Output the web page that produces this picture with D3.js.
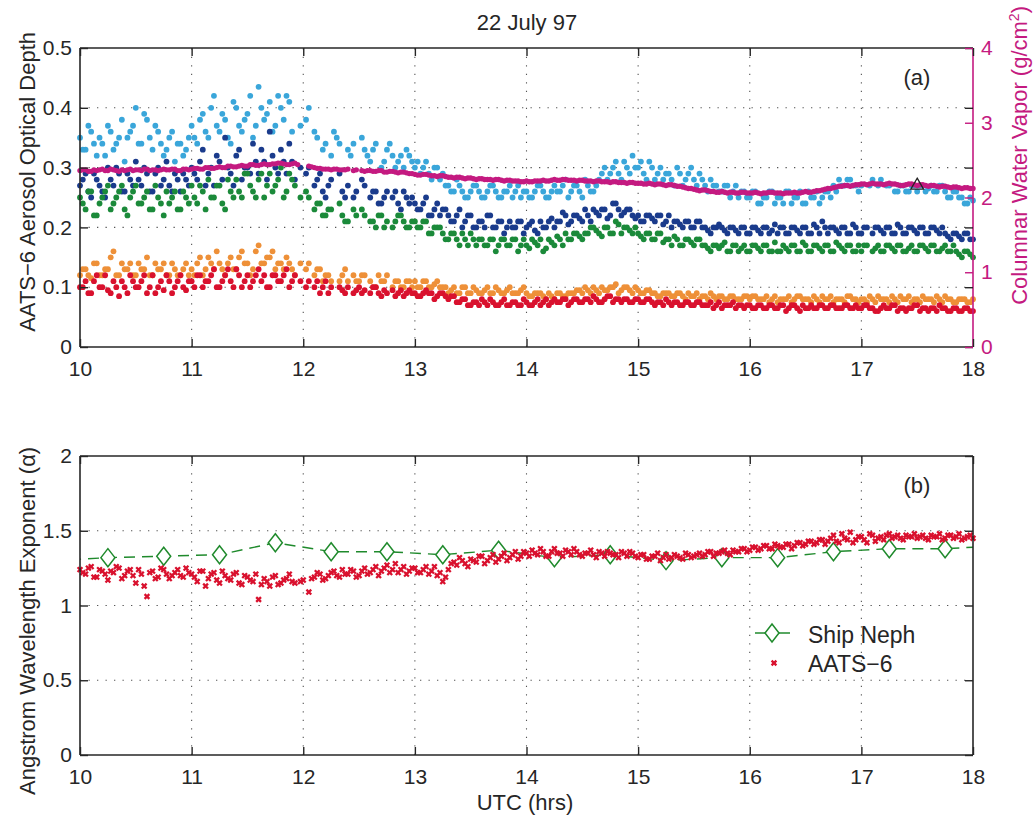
<!DOCTYPE html>
<html><head><meta charset="utf-8">
<script src="https://cdn.jsdelivr.net/npm/d3@7"></script>
<style>
body{margin:0;background:#fff;}
text{font-family:"Liberation Sans",Arial,Helvetica,sans-serif;}
</style></head>
<body><svg id="c" width="1034" height="816"></svg>
<script>
// ---------- DATA ----------
// Set A sampled at 10.000, 10.050 ... 18.000 UTC; set B at 10.025, 10.075 ... 17.975 UTC
const tStart = 10, tStep = 0.05, nA = 161, nB = 160;
// AOD channels (top panel, left axis)
const aodLightBlue = [
.35,.33,.36,.32,.34,.37,.33,.35,.31,.36,.40,.34,.38,.33,.36,.32,.35,.31,.34,.33,
.37,.34,.39,.35,.42,.36,.38,.34,.40,.36,.39,.35,.435,.38,.41,.37,.40,.42,.36,null,
null,.40,.36,null,.34,.32,.35,null,.33,.34,null,.33,.31,.34,.30,.33,.32,.31,.30,.32,
.30,.29,.31,.28,.30,.29,.27,.26,.27,.25,.26,.27,.25,.26,.27,.25,.26,.27,.26,.25,
.26,.25,.27,.26,.25,.27,.26,.28,.26,.27,.25,.27,.26,.28,.30,.29,.31,.28,.30,.32,
.30,.29,.31,.28,.30,.29,.28,.30,.27,.29,.28,.29,.27,.28,.27,.26,.27,.26,.25,.26,
.25,.26,.24,.25,.26,.25,.24,.26,.25,.26,.24,.25,.26,.25,.26,.27,.28,.27,.28,.27,
.27,null,.28,.27,null,.27,.26,.27,.26,.27,.26,.27,.265,.26,.27,.26,.25,.26,.25,.24,
.245];
const aodLightBlueB = [
.33,.37,.34,.35,.32,.36,.34,.38,.35,.37,.34,.39,.35,.37,.34,.33,.36,.34,.32,.35,
.35,.38,.36,.40,.37,.39,.35,.41,.37,.38,.42,.37,.40,.39,.36,.42,.38,.41,null,.37,
.38,null,.35,.33,null,.36,.34,null,.32,null,.35,.32,.33,null,.31,.34,.30,.32,.33,.31,
.31,.30,.29,.30,.28,.27,.26,.28,.26,.25,.27,.26,.25,.27,.26,.25,.26,.25,.27,.26,
.25,.26,.27,.25,.26,.26,.27,.25,.27,.26,.28,.26,.27,.29,.28,.30,.29,.31,.29,.30,
.31,.28,.30,.29,.28,.29,.27,.29,.28,.30,.27,.28,.26,.27,.26,.27,.25,.27,.26,.25,
.26,.24,.25,.26,.24,.25,.26,.24,.25,.24,.26,.25,.24,.26,.25,.26,.27,.28,.27,.26,
null,.27,null,.28,.27,null,.26,.27,.26,.27,.27,.26,.27,.26,.27,.25,.26,.25,.24,.25];
const aodDarkBlue = [
.27,.29,.25,.28,.26,.30,.27,.29,.26,.28,.31,.27,.29,.26,.30,.28,.27,.29,.26,.28,
.30,.28,.33,.29,.27,.31,.35,.29,.32,.28,.30,.34,.29,.31,.36,.30,.33,.29,.31,null,
null,.30,.27,.29,.25,.28,null,.26,.27,.25,null,.27,.25,.26,.24,.26,.25,.24,.26,.24,
.24,.23,.25,.22,.24,.23,.22,.21,.23,.21,.22,.20,.21,.22,.20,.21,.19,.21,.20,.21,
.20,.21,.19,.20,.21,.20,.21,.22,.21,.22,.21,.22,.23,.22,.23,.22,.24,.22,.23,.22,
.22,.21,.22,.21,.22,.21,.20,.21,.20,.21,.20,.21,.20,.19,.20,.20,.19,.20,.19,.20,
.19,.20,.19,.20,.195,.19,.20,.19,.20,.19,.20,.19,.20,.21,.19,.20,.19,.20,.19,.20,
.19,.20,.19,.20,.19,.20,.19,.20,.19,.20,.19,.20,.19,.20,.19,.19,.18,.19,.18,.19,
.18];
const aodDarkBlueB = [
.28,.26,.29,.27,.25,.28,.30,.26,.29,.27,.28,.30,.26,.29,.27,.31,.26,.28,.29,.27,
.29,.31,.27,.30,.32,.28,.30,.27,.33,.30,.29,.31,.33,.28,.32,.29,.31,.34,.28,.30,
.29,null,.28,.26,.27,null,.29,.25,null,.26,.28,null,.26,.24,.25,null,.26,.23,.25,.25,
.23,.24,.22,.23,.22,.23,.21,.22,.20,.22,.20,.21,.20,.22,.20,.21,.20,.20,.21,.19,
.205,.195,.21,.20,.215,.21,.225,.205,.22,.215,.23,.21,.225,.23,.215,.24,.23,.225,.23,.215,
.21,.22,.215,.22,.205,.22,.21,.205,.21,.20,.21,.20,.195,.20,.205,.195,.20,.195,.20,.19,
.20,.195,.20,.19,.205,.20,.19,.20,.195,.20,.19,.205,.19,.20,.20,.195,.20,.19,.205,.19,
.20,null,.20,.195,.20,.19,.205,.19,.20,.195,.20,.19,.20,.195,.20,.185,.19,.185,.19,.18];
const aodGreen = [
.25,.23,.26,.22,.25,.27,.24,.26,.23,.25,.27,.24,.26,.23,.25,.22,.24,.26,.23,.25,
.27,.24,.26,.28,.25,.27,.23,.26,.28,.25,.29,.26,.28,.25,.29,.27,.30,.26,.28,null,
null,.25,.23,.24,.22,.23,null,.22,.21,.23,null,.22,.21,.20,.22,.21,.20,.22,.21,.20,
.21,.20,.21,.19,.20,.19,.18,.19,.17,.18,.19,.17,.18,.17,.18,.17,.18,.17,.18,.17,
.17,.18,.17,.16,.18,.17,.18,.19,.18,.19,.18,.19,.20,.19,.20,.19,.21,.19,.20,.19,
.19,.18,.19,.18,.19,.18,.17,.18,.17,.18,.17,.18,.17,.16,.17,.17,.16,.17,.16,.17,
.16,.17,.16,.17,.16,.16,.17,.16,.17,.16,.17,.16,.17,.16,.17,.16,.17,.16,.17,.16,
.16,.17,.16,.17,.16,.17,.16,.17,.16,.17,.16,.17,.16,.17,.16,.17,.16,.16,.15,.16,
.15];
const aodGreenB = [
.24,.26,.22,.24,.26,.23,.25,.27,.22,.26,.24,.25,.23,.27,.24,.26,.25,.23,.26,.24,
.25,.27,.23,.25,.27,.24,.28,.25,.26,.29,.27,.25,.29,.27,.26,.28,.25,.29,.27,.25,
.26,null,.24,.22,.23,null,.24,.21,null,.22,.23,null,.21,.22,.20,null,.21,.22,.20,.21,
.20,.21,.19,.20,.20,.18,.19,.18,.19,.17,.18,.18,.17,.18,.16,.18,.17,.18,.16,.18,
.165,.175,.18,.165,.175,.185,.17,.18,.19,.185,.19,.20,.195,.185,.20,.19,.205,.20,.195,.20,
.185,.19,.18,.19,.175,.18,.185,.17,.18,.175,.18,.17,.165,.17,.165,.175,.16,.17,.165,.16,
.17,.165,.17,.16,.175,.16,.165,.17,.16,.175,.16,.17,.165,.17,.16,.175,.165,.17,.16,.17,
.17,null,.165,.16,.17,.165,.17,.16,.165,.16,.17,.165,.17,.16,.165,.16,.17,.155,.16,.155];
const aodOrange = [
.12,.13,.115,.14,.12,.13,.16,.12,.13,.14,.12,.13,.15,.12,.13,.14,.12,.13,.12,.14,
.13,.14,.12,.15,.13,.14,.12,.15,.13,.16,.14,.13,.17,.14,.15,.13,.14,.15,.13,null,
null,.14,.12,.13,.12,.11,null,.12,.11,.12,.11,.12,.11,.10,.11,.12,.10,.11,.10,.11,
.11,.10,.11,.10,.11,.10,.09,.10,.09,.10,.09,.095,.09,.10,.09,.095,.09,.10,.09,.095,
.09,.085,.09,.085,.09,.08,.09,.085,.09,.095,.09,.095,.10,.09,.095,.10,.105,.095,.10,.09,
.095,.09,.095,.09,.085,.09,.085,.09,.085,.09,.085,.08,.085,.09,.08,.085,.08,.085,.08,.085,
.08,.085,.08,.085,.08,.075,.08,.085,.08,.085,.08,.075,.08,.085,.08,.075,.08,.075,.085,.08,
.08,.075,.08,.085,.08,.075,.08,.085,.08,.075,.08,.085,.08,.075,.08,.085,.08,.075,.08,.075,
.08];
const aodOrangeB = [
.13,.12,.14,.12,.13,.15,.12,.14,.13,.12,.14,.13,.12,.14,.13,.12,.14,.12,.13,.12,
.12,.15,.13,.14,.16,.13,.14,.13,.15,.14,.12,.16,.14,.15,.16,.14,.13,.14,.12,.14,
.13,null,.13,.11,.12,null,.11,.13,null,.11,.12,null,.10,.12,.11,null,.11,.10,.11,.10,
.10,.11,.10,.105,.10,.10,.095,.09,.10,.09,.10,.09,.095,.09,.10,.09,.095,.09,.09,.10,
.085,.09,.09,.08,.085,.09,.085,.09,.09,.095,.10,.09,.095,.10,.095,.10,.09,.10,.095,.10,
.09,.095,.09,.085,.09,.09,.085,.09,.08,.085,.09,.085,.08,.085,.085,.08,.085,.08,.08,.085,
.085,.08,.08,.075,.085,.08,.08,.075,.085,.08,.08,.085,.075,.08,.085,.08,.08,.085,.08,.075,
.08,.085,.075,.08,.08,.085,.075,.08,.085,.08,.075,.08,.08,.085,.075,.08,.075,.08,.08,.075];
const aodRed = [
.10,.11,.09,.12,.10,.095,.11,.085,.10,.12,.10,.11,.09,.12,.10,.095,.11,.10,.12,.095,
.11,.12,.10,.11,.13,.10,.12,.11,.13,.10,.12,.11,.13,.12,.10,.12,.11,.13,.11,null,
null,.11,.10,.09,.11,.10,null,.095,.10,.09,.10,.095,.09,.10,.085,.09,.095,.09,.085,.095,
.09,.085,.095,.09,.085,.09,.08,.085,.075,.08,.07,.075,.08,.07,.075,.07,.08,.07,.075,.07,
.075,.07,.08,.075,.07,.08,.075,.08,.075,.08,.075,.08,.085,.075,.08,.085,.08,.075,.08,.075,
.08,.075,.08,.07,.075,.08,.07,.075,.07,.075,.07,.075,.07,.075,.07,.065,.07,.075,.07,.065,
.07,.065,.07,.065,.07,.065,.07,.065,.07,.06,.065,.07,.065,.07,.065,.07,.065,.07,.065,.07,
.065,.07,.065,.06,.07,.065,.07,.065,.06,.065,.07,.065,.06,.065,.07,.065,.06,.065,.06,.065,
.06];
const aodRedB = [
.10,.09,.11,.10,.12,.09,.10,.11,.09,.11,.10,.12,.10,.09,.11,.12,.09,.11,.10,.11,
.10,.12,.11,.12,.10,.11,.13,.10,.12,.11,.10,.12,.11,.10,.12,.11,.12,.10,.12,.11,
.10,null,.11,.10,.09,null,.10,.09,null,.095,.09,null,.10,.09,.095,null,.085,.095,.09,.09,
.085,.09,.09,.08,.09,.085,.085,.075,.08,.07,.075,.07,.075,.08,.07,.075,.07,.075,.07,.08,
.07,.075,.07,.08,.075,.075,.08,.07,.08,.075,.08,.075,.08,.075,.085,.075,.08,.08,.075,.08,
.075,.08,.075,.075,.07,.075,.075,.07,.075,.07,.075,.07,.07,.065,.075,.07,.07,.065,.07,.07,
.065,.07,.065,.07,.065,.07,.06,.07,.065,.07,.065,.065,.07,.065,.07,.065,.065,.07,.065,.065,
.07,.065,.06,.065,.065,.07,.06,.065,.065,.07,.06,.065,.065,.06,.065,.06,.065,.06,.065,.06];
// Columnar water vapor (top panel, right axis, g/cm2)
const waterVapor = [
2.36,2.37,2.35,2.36,2.38,2.36,2.37,2.35,2.36,2.38,2.37,2.36,2.38,2.37,2.36,2.38,2.37,2.38,2.36,2.38,
2.38,2.39,2.38,2.40,2.39,2.41,2.40,2.42,2.41,2.43,2.42,2.44,2.43,2.45,2.44,2.45,2.46,2.44,2.45,2.44,
null,2.42,2.40,2.39,2.38,2.37,2.38,2.37,2.38,2.36,null,2.35,2.36,2.35,2.36,2.34,2.35,2.33,2.34,2.32,
2.31,2.30,2.31,2.29,2.28,2.29,2.27,2.26,2.27,2.25,2.26,2.24,2.25,2.24,2.23,2.24,2.22,2.23,2.22,2.21,
2.22,2.21,2.22,2.23,2.22,2.24,2.23,2.24,2.23,2.22,2.23,2.22,2.21,2.22,2.21,2.20,2.21,2.20,2.19,2.20,
2.19,2.18,2.19,2.17,2.18,2.16,2.17,2.15,2.14,2.12,2.11,2.09,2.10,2.08,2.07,2.08,2.06,2.07,2.06,2.07,
2.06,2.07,2.05,2.06,2.07,2.06,2.05,2.06,2.07,2.06,2.08,2.07,2.09,2.10,2.12,2.13,2.15,2.16,2.15,2.17,
2.18,2.17,2.19,2.18,2.17,2.19,2.18,2.16,2.17,2.18,2.16,2.17,2.15,2.16,2.14,2.15,2.13,2.14,2.12,2.13,
2.12];
const waterVaporB = [
2.37,2.35,2.37,2.37,2.36,2.38,2.36,2.37,2.37,2.36,2.37,2.38,2.36,2.37,2.37,2.37,2.38,2.36,2.38,2.37,
2.39,2.38,2.40,2.39,2.40,2.40,2.42,2.41,2.42,2.42,2.44,2.43,2.44,2.44,2.45,2.46,2.45,2.44,2.46,null,
null,2.41,2.39,2.38,2.38,2.38,2.37,2.37,null,2.37,2.36,2.36,2.35,2.36,2.34,2.35,2.34,2.34,2.33,2.32,
2.30,2.31,2.30,2.29,2.29,2.28,2.27,2.27,2.26,2.26,2.25,2.25,2.24,2.24,2.24,2.23,2.23,2.22,2.22,2.21,
2.21,2.22,2.22,2.22,2.23,2.23,2.24,2.23,2.23,2.23,2.22,2.22,2.22,2.21,2.21,2.21,2.20,2.20,2.20,2.19,
2.19,2.18,2.18,2.18,2.17,2.17,2.16,2.15,2.13,2.12,2.10,2.10,2.09,2.08,2.07,2.07,2.07,2.06,2.07,2.06,
2.06,2.06,2.06,2.07,2.06,2.06,2.06,2.06,2.06,2.07,2.07,2.08,2.09,2.11,2.12,2.14,2.15,2.16,2.16,2.17,
2.18,2.18,2.18,2.18,2.18,2.18,2.17,2.16,2.18,2.17,2.17,2.16,2.16,2.15,2.15,2.14,2.14,2.13,2.13,2.12];
const shipVaporT = [17.5], shipVapor = [2.16];
// Angstrom exponent (bottom panel)
const alphaAATS = [
1.24,1.21,1.26,1.19,1.23,1.17,1.22,1.25,1.20,1.24,1.15,1.21,1.06,1.23,1.19,1.24,1.18,1.22,1.20,1.25,
1.21,1.16,1.23,1.18,1.22,1.15,1.20,1.17,1.22,1.14,1.19,1.16,1.04,1.18,1.13,1.20,1.15,1.18,1.16,null,
1.17,1.09,1.19,1.21,1.18,1.22,1.20,1.24,1.21,1.23,1.20,1.25,1.22,1.26,1.23,1.27,1.24,1.22,1.26,1.23,
1.25,1.22,1.26,1.23,1.20,1.16,1.24,1.29,1.32,1.28,1.31,1.29,1.33,1.30,1.34,1.31,1.35,1.32,1.36,1.33,
1.35,1.37,1.34,1.36,1.33,1.38,1.35,1.37,1.34,1.36,1.33,1.35,1.34,1.36,1.33,1.35,1.34,1.36,1.33,1.35,
1.32,1.34,1.31,1.33,1.30,1.34,1.32,1.33,1.31,1.34,1.33,1.35,1.34,1.36,1.35,1.36,1.35,1.37,1.36,1.38,
1.37,1.39,1.38,1.40,1.38,1.40,1.39,1.41,1.40,1.42,1.41,1.43,1.42,1.44,1.43,1.47,1.42,1.45,1.49,1.44,
1.46,1.42,1.47,1.45,1.44,1.48,1.46,1.45,1.47,1.46,1.45,1.47,1.44,1.46,1.48,1.45,1.47,1.46,1.44,1.46,
1.45];
const alphaAATSB = [
1.22,1.25,1.19,1.24,1.21,1.23,1.26,1.18,1.23,1.20,1.24,1.13,1.22,1.18,1.25,1.21,1.20,1.24,1.19,1.22,
1.19,1.23,1.13,1.21,1.17,1.23,1.18,1.21,1.15,1.20,1.17,1.21,1.14,1.16,1.19,1.14,1.17,1.21,1.15,1.16,
null,1.18,1.22,1.17,1.20,1.23,1.19,1.21,1.24,1.19,1.23,1.21,1.24,1.20,1.25,1.22,1.28,1.24,1.21,1.25,
1.22,1.24,1.21,1.26,1.22,1.19,1.28,1.27,1.30,1.26,1.30,1.33,1.28,1.32,1.29,1.33,1.30,1.34,1.31,1.36,
1.33,1.35,1.38,1.33,1.36,1.35,1.33,1.36,1.38,1.34,1.35,1.37,1.32,1.35,1.36,1.34,1.32,1.35,1.36,1.33,
1.34,1.31,1.33,1.35,1.32,1.31,1.34,1.32,1.35,1.32,1.34,1.33,1.36,1.33,1.35,1.37,1.34,1.36,1.38,1.36,
1.39,1.37,1.40,1.38,1.41,1.39,1.41,1.38,1.42,1.40,1.43,1.41,1.44,1.41,1.45,1.43,1.48,1.44,1.42,1.46,
1.44,1.48,1.43,1.46,1.47,1.45,1.47,1.44,1.46,1.48,1.46,1.45,1.47,1.46,1.44,1.47,1.45,1.48,1.45,1.47];
const nephT = [9.75,10.25,10.75,11.25,11.75,12.25,12.75,13.25,13.75,14.25,14.75,15.25,15.75,16.25,16.75,17.25,17.75,18.25];
const nephAlpha = [1.30,1.32,1.33,1.34,1.42,1.36,1.36,1.34,1.37,1.32,1.34,1.30,1.32,1.32,1.36,1.38,1.38,1.40];
// Ticks
const hourTicks = [10,11,12,13,14,15,16,17,18];
const aodTicks = [0,0.1,0.2,0.3,0.4,0.5];
const vaporTicks = [0,1,2,3,4];
const alphaTicks = [0,0.5,1,1.5,2];

// ---------- CHART ----------
const svg = d3.select("#c");
const timesA = d3.range(nA).map(i => tStart + i * tStep);
const timesB = d3.range(nB).map(i => tStart + tStep / 2 + i * tStep);
const pairs = (vals, times) => vals.map((v,i)=>[times[i],v]).filter(d=>d[1]!==null);
const both = (a, b) => pairs(a, timesA).concat(pairs(b, timesB));
const x = d3.scaleLinear().domain([10,18]).range([80,973]);
const yA = d3.scaleLinear().domain([0,0.5]).range([347,48]);
const yW = d3.scaleLinear().domain([0,4]).range([347,48]);
const yB = d3.scaleLinear().domain([0,2]).range([755,456]);
const fmt = d3.format("~g");
const ink = "#262626", magenta = "#c41a80";
const colors = {lb:"#3aa6da", db:"#1a3b8c", gr:"#1b8a3a", or:"#ee9038", rd:"#d9112e"};
const TICK_FS = 21, LABEL_FS = 22, R = 2.9;

svg.append("defs").append("clipPath").attr("id","clipB")
  .append("rect").attr("x",80).attr("y",456).attr("width",893).attr("height",299);

function grid(yScale, yTicks, y0, y1){
  const g = svg.append("g").attr("stroke","#555").attr("stroke-width",1.1).attr("stroke-dasharray","1.3,7.2");
  hourTicks.slice(1,-1).forEach(h => g.append("line").attr("x1",x(h)).attr("x2",x(h)).attr("y1",y0).attr("y2",y1));
  yTicks.slice(1,-1).forEach(v => g.append("line").attr("x1",80).attr("x2",973).attr("y1",yScale(v)).attr("y2",yScale(v)));
}
grid(yA, aodTicks, 347, 48);
grid(yB, alphaTicks, 755, 456);

// ---- top panel points
function dots(data, yScale, color, r){
  svg.append("g").selectAll("circle").data(data)
    .join("circle").attr("cx",d=>x(d[0])).attr("cy",d=>yScale(d[1])).attr("r",r).attr("fill",color);
}
dots(both(aodLightBlue, aodLightBlueB), yA, colors.lb, R);
dots(both(aodDarkBlue, aodDarkBlueB), yA, colors.db, R);
dots(both(aodGreen, aodGreenB), yA, colors.gr, R);
dots(both(aodOrange, aodOrangeB), yA, colors.or, R);
dots(both(aodRed, aodRedB), yA, colors.rd, R);
dots(both(waterVapor, waterVaporB), yW, magenta, 2.7);
svg.append("g").selectAll("path").data(shipVaporT.map((t,i)=>[t,shipVapor[i]]))
  .join("path").attr("transform",d=>`translate(${x(d[0])},${yW(d[1])})`)
  .attr("d", d3.symbol(d3.symbolTriangle, 70)).attr("fill","none").attr("stroke","#222").attr("stroke-width",1.3);

// ---- axes helpers
function frame(y0, y1, rightColor){
  const g = svg.append("g").attr("fill","none").attr("stroke-width",1.6);
  g.append("line").attr("x1",80).attr("x2",973).attr("y1",y0).attr("y2",y0).attr("stroke",ink);
  g.append("line").attr("x1",80).attr("x2",973).attr("y1",y1).attr("y2",y1).attr("stroke",ink);
  g.append("line").attr("x1",80).attr("x2",80).attr("y1",y0).attr("y2",y1).attr("stroke",ink);
  g.append("line").attr("x1",973).attr("x2",973).attr("y1",y0).attr("y2",y1).attr("stroke",rightColor);
}
function styleAxis(g, color){
  g.select(".domain").remove();
  g.selectAll(".tick line").attr("stroke",color).attr("stroke-width",1.4);
  g.selectAll(".tick text").attr("fill",color).attr("font-size",TICK_FS);
  g.attr("font-family",null);
}
frame(347, 48, magenta);
styleAxis(svg.append("g").attr("transform","translate(0,347)")
  .call(d3.axisBottom(x).tickValues(hourTicks).tickFormat(fmt).tickSize(-8).tickPadding(14)), ink);
styleAxis(svg.append("g").attr("transform","translate(0,48)")
  .call(d3.axisTop(x).tickValues(hourTicks).tickFormat("").tickSize(-8)), ink);
styleAxis(svg.append("g").attr("transform","translate(80,0)")
  .call(d3.axisLeft(yA).tickValues(aodTicks).tickFormat(fmt).tickSize(-8).tickPadding(8)), ink);
styleAxis(svg.append("g").attr("transform","translate(973,0)")
  .call(d3.axisRight(yA).tickValues(aodTicks).tickFormat("").tickSize(-8)), ink);
styleAxis(svg.append("g").attr("transform","translate(973,0)")
  .call(d3.axisRight(yW).tickValues(vaporTicks).tickFormat(fmt).tickSize(-8).tickPadding(8)), magenta);

// ---- bottom panel
svg.append("path").datum(nephT.map((t,i)=>[t,nephAlpha[i]]))
  .attr("clip-path","url(#clipB)")
  .attr("d", d3.line().x(d=>x(d[0])).y(d=>yB(d[1])))
  .attr("fill","none").attr("stroke","#1f8a2c").attr("stroke-width",1.4).attr("stroke-dasharray","11,7");
svg.append("g").attr("clip-path","url(#clipB)").selectAll("path").data(nephT.map((t,i)=>[t,nephAlpha[i]]))
  .join("path").attr("transform",d=>`translate(${x(d[0])},${yB(d[1])})`)
  .attr("d","M0,-9L7,0L0,9L-7,0Z").attr("fill","#fff").attr("stroke","#1f8a2c").attr("stroke-width",1.5);
const cross = "M-2.4,-2.4L2.4,2.4M-2.4,2.4L2.4,-2.4";
svg.append("g").selectAll("path").data(both(alphaAATS, alphaAATSB))
  .join("path").attr("transform",d=>`translate(${x(d[0])},${yB(d[1])})`)
  .attr("d",cross).attr("stroke",colors.rd).attr("stroke-width",2.3).attr("fill","none");

frame(755, 456, ink);
styleAxis(svg.append("g").attr("transform","translate(0,755)")
  .call(d3.axisBottom(x).tickValues(hourTicks).tickFormat(fmt).tickSize(-8).tickPadding(14)), ink);
styleAxis(svg.append("g").attr("transform","translate(0,456)")
  .call(d3.axisTop(x).tickValues(hourTicks).tickFormat("").tickSize(-8)), ink);
styleAxis(svg.append("g").attr("transform","translate(80,0)")
  .call(d3.axisLeft(yB).tickValues(alphaTicks).tickFormat(fmt).tickSize(-8).tickPadding(8)), ink);
styleAxis(svg.append("g").attr("transform","translate(973,0)")
  .call(d3.axisRight(yB).tickValues(alphaTicks).tickFormat("").tickSize(-8)), ink);

// ---- legend
const lg = svg.append("g");
lg.append("line").attr("x1",755).attr("x2",790).attr("y1",633).attr("y2",633).attr("stroke","#1f8a2c").attr("stroke-width",1.4);
lg.append("path").attr("transform","translate(772,633)").attr("d","M0,-9L7,0L0,9L-7,0Z").attr("fill","#fff").attr("stroke","#1f8a2c").attr("stroke-width",1.5);
lg.append("path").attr("transform","translate(774,663)").attr("d",cross).attr("stroke",colors.rd).attr("stroke-width",2.3);
lg.append("text").attr("x",808).attr("y",643).attr("font-size",23).attr("fill",ink).text("Ship Neph");
lg.append("text").attr("x",808).attr("y",672).attr("font-size",23).attr("fill",ink).text("AATS−6");

// ---- texts
svg.append("text").attr("x",527).attr("y",30).attr("text-anchor","middle").attr("font-size",LABEL_FS).attr("fill",ink).text("22 July 97");
svg.append("text").attr("x",917).attr("y",85).attr("text-anchor","middle").attr("font-size",LABEL_FS).attr("fill",ink).text("(a)");
svg.append("text").attr("x",917).attr("y",493).attr("text-anchor","middle").attr("font-size",LABEL_FS).attr("fill",ink).text("(b)");
svg.append("text").attr("transform","translate(35,32) rotate(-90)").attr("text-anchor","end").attr("font-size",LABEL_FS).attr("fill",ink).text("AATS−6 Aerosol Optical Depth");
svg.append("text").attr("transform","translate(35,795) rotate(-90)").attr("text-anchor","start").attr("font-size",LABEL_FS).attr("fill",ink).text("Angstrom Wavelength Exponent (α)");
const rl = svg.append("text").attr("transform","translate(1027,6) rotate(-90)").attr("text-anchor","end").attr("font-size",LABEL_FS).attr("fill",magenta);
rl.append("tspan").text("Columnar Water Vapor (g/cm");
rl.append("tspan").attr("dy",-8).attr("font-size",14).text("2");
rl.append("tspan").attr("dy",8).text(")");
svg.append("text").attr("x",525).attr("y",810).attr("text-anchor","middle").attr("font-size",LABEL_FS).attr("fill",ink).text("UTC (hrs)");
</script></body></html>
